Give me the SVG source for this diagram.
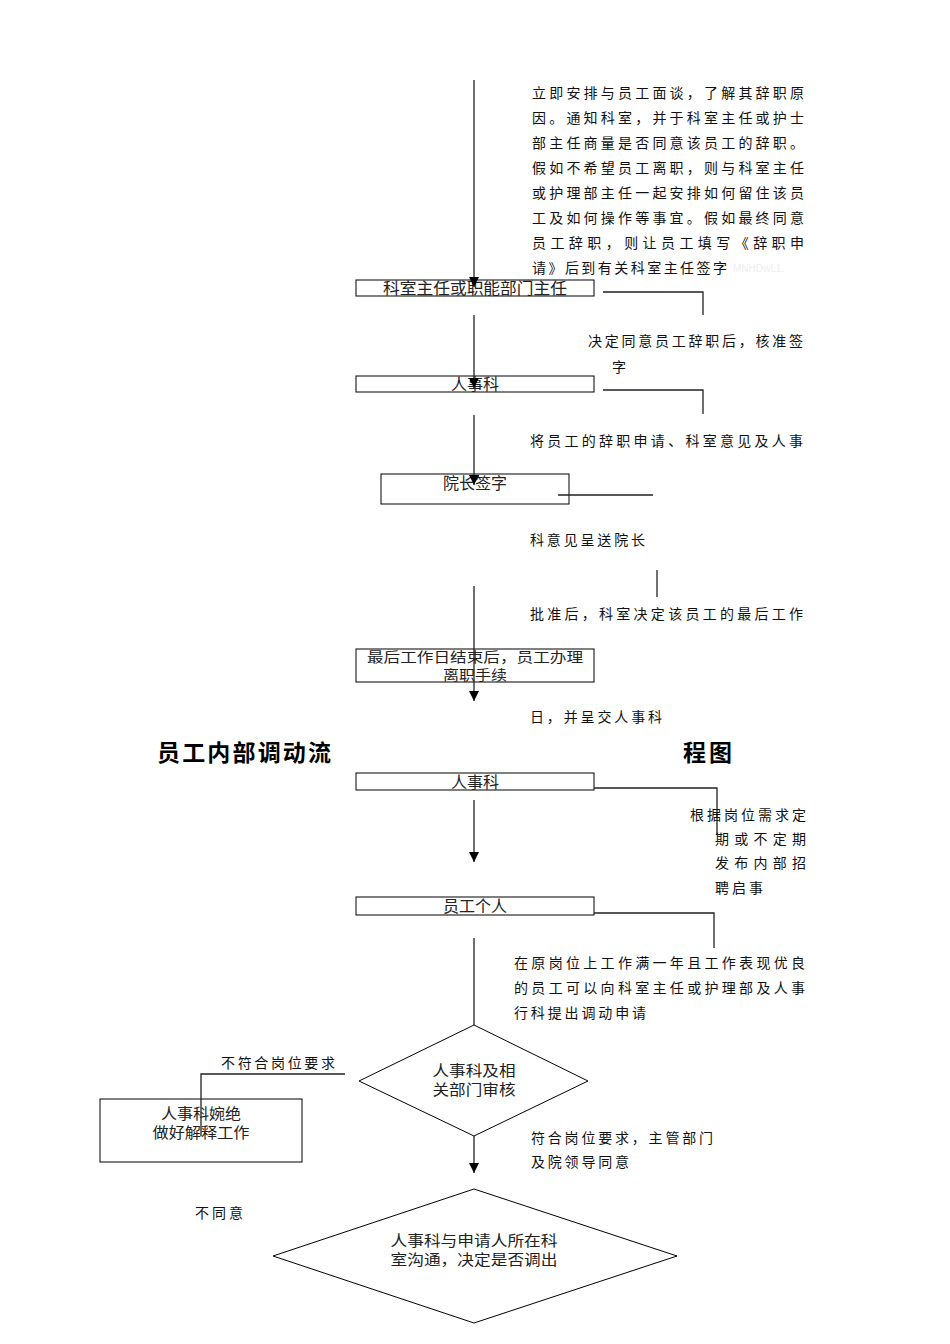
<svg xmlns="http://www.w3.org/2000/svg" width="950" height="1344" viewBox="0 0 950 1344">
<defs>
<marker id="arr" markerUnits="userSpaceOnUse" markerWidth="11" markerHeight="10" refX="10" refY="5" orient="auto" viewBox="0 0 11 10">
<path d="M0,0 L10,5 L0,10 Z" fill="#000"/>
</marker>
<style>
.ln{stroke:#222;stroke-width:1.3;fill:none}
.box{fill:#fff;stroke:#000;stroke-width:1}
.bl{font-family:"Noto Sans CJK SC","Liberation Sans",sans-serif;font-size:16px;fill:#222;text-anchor:middle}
.b2{font-family:"Noto Sans CJK SC","Liberation Sans",sans-serif;font-size:15px;fill:#222;text-anchor:middle}
.b3{font-family:"Noto Sans CJK SC","Liberation Sans",sans-serif;font-size:13.5px;fill:#222;text-anchor:middle}
.an{font-family:"Noto Sans CJK SC","Liberation Sans",sans-serif;font-size:14px;fill:#111}
.tt{font-family:"Noto Sans CJK SC","Liberation Sans",sans-serif;font-size:23px;font-weight:bold;fill:#000}
</style>
</defs>
<rect width="950" height="1344" fill="#fff"/>

<g id="n1"><rect class="box" x="356" y="280" width="238" height="16"/><text class="bl" x="475" y="294" textLength="184" lengthAdjust="spacingAndGlyphs">科室主任或职能部门主任</text></g>
<g id="n2"><rect class="box" x="356" y="376" width="238" height="16"/><text class="bl" x="475" y="390">人事科</text></g>
<g id="n3"><rect class="box" x="381" y="474" width="188" height="30"/><text class="bl" x="475" y="489">院长签字</text></g>
<g id="n4"><rect class="box" x="356" y="649" width="238" height="33"/><text class="b3" x="475" y="662" textLength="216" lengthAdjust="spacingAndGlyphs">最后工作日结束后，员工办理</text><text class="b3" x="475" y="680" textLength="64" lengthAdjust="spacingAndGlyphs">离职手续</text></g>
<g id="n5"><rect class="box" x="356" y="773" width="238" height="17"/><text class="bl" x="475" y="788">人事科</text></g>
<g id="n6"><rect class="box" x="356" y="897" width="238" height="18"/><text class="bl" x="475" y="912">员工个人</text></g>
<g id="n7"><polygon class="box" points="474,1025 588,1081 474,1136 359,1081"/><text class="b2" x="474" y="1076" textLength="83" lengthAdjust="spacingAndGlyphs">人事科及相</text><text class="b2" x="474" y="1095" textLength="83" lengthAdjust="spacingAndGlyphs">关部门审核</text></g>
<g id="n8"><rect class="box" x="100" y="1099" width="202" height="63"/><text class="b2" x="201" y="1119" textLength="80" lengthAdjust="spacingAndGlyphs">人事科婉绝</text><text class="b2" x="201" y="1138" textLength="97" lengthAdjust="spacingAndGlyphs">做好解释工作</text></g>
<g id="n9"><polygon class="box" points="474,1189 677,1256 474,1323 273,1256"/><text class="b2" x="474" y="1246" textLength="167" lengthAdjust="spacingAndGlyphs">人事科与申请人所在科</text><text class="b2" x="474" y="1265" textLength="167" lengthAdjust="spacingAndGlyphs">室沟通，决定是否调出</text></g>

<g id="connectors">
<line class="ln" x1="474" y1="80" x2="474" y2="287" marker-end="url(#arr)"/>
<line class="ln" x1="474" y1="315" x2="474" y2="388" marker-end="url(#arr)"/>
<line class="ln" x1="474" y1="415" x2="474" y2="485" marker-end="url(#arr)"/>
<line class="ln" x1="474" y1="586" x2="474" y2="701" marker-end="url(#arr)"/>
<line class="ln" x1="474" y1="800" x2="474" y2="862" marker-end="url(#arr)"/>
<line class="ln" x1="474" y1="938" x2="474" y2="1025"/>
<line class="ln" x1="474" y1="1136" x2="474" y2="1173" marker-end="url(#arr)"/>
<polyline class="ln" points="603,292 703,292 703,315"/>
<polyline class="ln" points="603,390 703,390 703,414"/>
<line class="ln" x1="558" y1="495" x2="653" y2="495"/>
<line class="ln" x1="657" y1="570" x2="657" y2="597"/>
<polyline class="ln" points="594,788 717,788 717,835"/>
<polyline class="ln" points="594,913 714,913 714,948"/>
<polyline class="ln" points="345,1074 201,1074 201,1136"/>
</g>

<g id="labels">
<text class="an" x="532" y="98" textLength="272" lengthAdjust="spacing">立即安排与员工面谈，了解其辞职原</text>
<text class="an" x="532" y="123" textLength="272" lengthAdjust="spacing">因。通知科室，并于科室主任或护士</text>
<text class="an" x="532" y="148" textLength="272" lengthAdjust="spacing">部主任商量是否同意该员工的辞职。</text>
<text class="an" x="532" y="173" textLength="272" lengthAdjust="spacing">假如不希望员工离职，则与科室主任</text>
<text class="an" x="532" y="198" textLength="272" lengthAdjust="spacing">或护理部主任一起安排如何留住该员</text>
<text class="an" x="532" y="223" textLength="272" lengthAdjust="spacing">工及如何操作等事宜。假如最终同意</text>
<text class="an" x="532" y="248" textLength="272" lengthAdjust="spacing">员工辞职，则让员工填写《辞职申</text>
<text class="an" x="532" y="273" textLength="195" lengthAdjust="spacing">请》后到有关科室主任签字</text>
<text x="733" y="272" font-family="Liberation Sans, sans-serif" font-size="10" fill="#eeeeee">MNHDwL1.</text>
<text class="an" x="588" y="346" textLength="215" lengthAdjust="spacing">决定同意员工辞职后，核准签</text>
<text class="an" x="612" y="372">字</text>
<text class="an" x="530" y="446" textLength="273" lengthAdjust="spacing">将员工的辞职申请、科室意见及人事</text>
<text class="an" x="530" y="545" textLength="115" lengthAdjust="spacing">科意见呈送院长</text>
<text class="an" x="530" y="619" textLength="273" lengthAdjust="spacing">批准后，科室决定该员工的最后工作</text>
<text class="an" x="530" y="722" textLength="132" lengthAdjust="spacing">日，并呈交人事科</text>
<text class="tt" x="157" y="761" textLength="174" lengthAdjust="spacing">员工内部调动流</text>
<text class="tt" x="683" y="761" textLength="49" lengthAdjust="spacing">程图</text>
<text class="an" x="690" y="820" textLength="116" lengthAdjust="spacing">根据岗位需求定</text>
<text class="an" x="715" y="844" textLength="91" lengthAdjust="spacing">期或不定期</text>
<text class="an" x="715" y="868" textLength="91" lengthAdjust="spacing">发布内部招</text>
<text class="an" x="715" y="893" textLength="48" lengthAdjust="spacing">聘启事</text>
<text class="an" x="514" y="968" textLength="291" lengthAdjust="spacing">在原岗位上工作满一年且工作表现优良</text>
<text class="an" x="514" y="993" textLength="291" lengthAdjust="spacing">的员工可以向科室主任或护理部及人事</text>
<text class="an" x="514" y="1018" textLength="132" lengthAdjust="spacing">行科提出调动申请</text>
<text class="an" x="221" y="1068" textLength="114" lengthAdjust="spacing">不符合岗位要求</text>
<text class="an" x="531" y="1143" textLength="182" lengthAdjust="spacing">符合岗位要求，主管部门</text>
<text class="an" x="531" y="1167" textLength="98" lengthAdjust="spacing">及院领导同意</text>
<text class="an" x="195" y="1218" textLength="48" lengthAdjust="spacing">不同意</text>
</g>
</svg>
